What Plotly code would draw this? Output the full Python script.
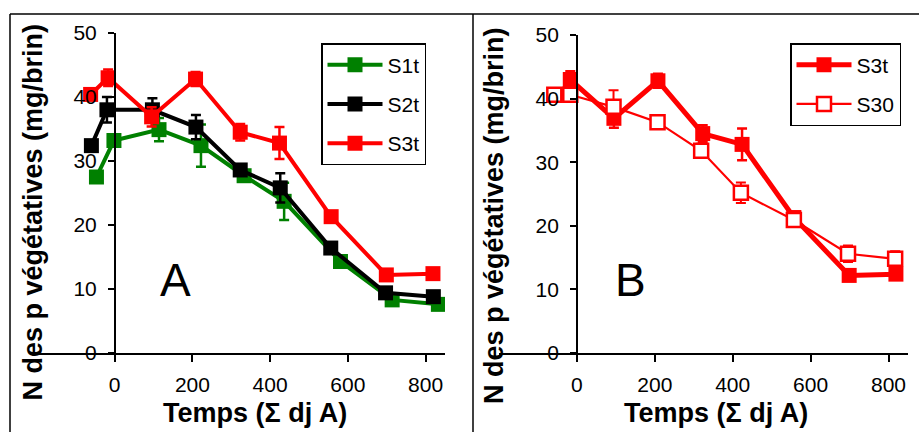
import plotly.graph_objects as go

W, H = 921, 432

# ---------------- data ----------------
x_ticks = [0, 200, 400, 600, 800]
y_ticks = [0, 10, 20, 30, 40, 50]

s1t_x = [-47, -2, 114, 222, 333, 436, 581, 714, 833]
s1t_y = [27.5, 33.2, 34.9, 32.4, 27.7, 23.7, 14.3, 8.3, 7.6]
s1t_err = [0.6, 0.8, 1.8, 3.3, 0.8, 2.9, 0.7, 0.5, 0.5]

s2t_x = [-60, -20, 97, 209, 323, 426, 556, 697, 820]
s2t_y = [32.4, 38.0, 38.0, 35.3, 28.6, 25.8, 16.4, 9.4, 8.8]
s2t_err = [0.6, 2.0, 1.8, 1.9, 0.8, 2.3, 0.7, 0.5, 0.4]

s3t_x = [-62, -17, 95, 208, 323, 424, 557, 699, 819]
s3t_y = [40.4, 43.0, 36.9, 42.8, 34.5, 32.8, 21.3, 12.2, 12.4]
s3t_err = [0.5, 1.3, 1.5, 1.1, 1.3, 2.5, 0.8, 0.5, 0.5]

s30_x = [-58, -17, 94, 207, 319, 421, 557, 696, 817]
s30_y = [40.6, 40.6, 38.7, 36.3, 31.8, 25.2, 20.9, 15.6, 14.8]
s30_err = [0.4, 0.5, 2.6, 0.5, 1.1, 1.6, 0.6, 1.3, 1.2]

x_range = [-200, 850]
y_range = [0, 50]

FONT = "Arial, Liberation Sans, sans-serif"
GREEN = "#008000"
RED = "#FF0000"
BLACK = "#000000"

fig = go.Figure()


def series(x, y, err, name, color, xa, ya, legend, lw=4, fill=None, ms=15, mlw=0, et=2.5):
    fig.add_trace(go.Scatter(
        x=x, y=y, name=name, mode="lines+markers",
        xaxis=xa, yaxis=ya, legend=legend, legendgroup=name + legend,
        line=dict(color=color, width=lw),
        marker=dict(symbol="square", size=ms, color=fill or color,
                    line=dict(color=color, width=mlw)),
        error_y=dict(type="data", array=err, color=color, thickness=et, width=5),
    ))


# Panel A
series(s1t_x, s1t_y, s1t_err, "S1t", GREEN, "x", "y", "legend")
series(s2t_x, s2t_y, s2t_err, "S2t", BLACK, "x", "y", "legend")
series(s3t_x, s3t_y, s3t_err, "S3t", RED, "x", "y", "legend")

# Panel B
series(s3t_x[1:], s3t_y[1:], s3t_err[1:], "S3t", RED, "x2", "y2", "legend2", lw=5)
series(s30_x, s30_y, s30_err, "S30", RED, "x2", "y2", "legend2", lw=2.2,
       fill="white", ms=14, mlw=2.5, et=2)

# ---------------- layout ----------------
domA = [37 / W, 445 / W]
domB = [499 / W, 908 / W]
ydomA = [1 - 353 / H, 1 - 33 / H]
ydomB = [1 - 353 / H, 1 - 35 / H]


def zero_pos(dom):
    return dom[0] + (0 - x_range[0]) / (x_range[1] - x_range[0]) * (dom[1] - dom[0])


xcommon = dict(range=x_range, tickvals=x_ticks, showline=True, linecolor="black",
               linewidth=1.5, ticks="outside", ticklen=7, tickwidth=1.5,
               tickcolor="black", showgrid=False, zeroline=False,
               tickfont=dict(size=21, color="black", family=FONT),
               ticklabelstandoff=5, fixedrange=True, automargin=False)
ycommon = dict(range=y_range, tickvals=y_ticks, showline=True, linecolor="black",
               linewidth=1.5, ticks="outside", ticklen=6, tickwidth=1.5,
               tickcolor="black", showgrid=False, zeroline=False,
               tickfont=dict(size=21, color="black", family=FONT),
               ticklabelstandoff=7, anchor="free", fixedrange=True, automargin=False)

legcommon = dict(xanchor="left", yanchor="top", bordercolor="black", borderwidth=1.5,
                 bgcolor="white", font=dict(size=21, color="black", family=FONT),
                 tracegroupgap=9, itemwidth=55)

title_font = dict(size=27, color="black", family=FONT)

annotations = []
for (tx, ty, ax, ay, letter, lx) in [
    (32.5, 212, 254.5, 413, "A", 175),
    (494, 216, 716, 413, "B", 630),
]:
    annotations.append(dict(text="<b>N des p végétatives (mg/brin)</b>", textangle=-90,
                            x=tx / W, y=1 - ty / H, xref="paper", yref="paper",
                            xanchor="center", yanchor="middle", showarrow=False,
                            font=title_font))
    annotations.append(dict(text="<b>Temps (Σ dj A)</b>",
                            x=ax / W, y=1 - ay / H, xref="paper", yref="paper",
                            xanchor="center", yanchor="middle", showarrow=False,
                            font=title_font))
    annotations.append(dict(text=letter, x=lx / W, y=1 - 280 / H, xref="paper",
                            yref="paper", xanchor="center", yanchor="middle",
                            showarrow=False,
                            font=dict(size=46, color="black", family=FONT)))

frame = dict(color="black", width=1.5)
shapes = [
    dict(type="line", xref="paper", yref="paper", x0=10 / W, x1=919 / W,
         y0=1 - 14 / H, y1=1 - 14 / H, line=frame),
    dict(type="line", xref="paper", yref="paper", x0=10 / W, x1=10 / W,
         y0=0, y1=1 - 14 / H, line=frame),
    dict(type="line", xref="paper", yref="paper", x0=473 / W, x1=473 / W,
         y0=0, y1=1 - 14 / H, line=frame),
]

fig.update_layout(
    width=W, height=H, autosize=False,
    margin=dict(l=0, r=0, t=0, b=0, pad=0, autoexpand=False),
    paper_bgcolor="white", plot_bgcolor="white",
    font=dict(family=FONT, color="black"),
    xaxis=dict(domain=domA, anchor="y", **xcommon),
    yaxis=dict(domain=ydomA, position=zero_pos(domA), **ycommon),
    xaxis2=dict(domain=domB, anchor="y2", **xcommon),
    yaxis2=dict(domain=ydomB, position=zero_pos(domB), **ycommon),
    legend=dict(x=321 / W, y=1 - 43 / H, **legcommon),
    legend2=dict(x=790 / W, y=1 - 43 / H, **legcommon),
    annotations=annotations,
    shapes=shapes,
    showlegend=True,
)

fig.write_html("out.html", config={"displayModeBar": False},
               post_script="document.body.style.margin='0';")
